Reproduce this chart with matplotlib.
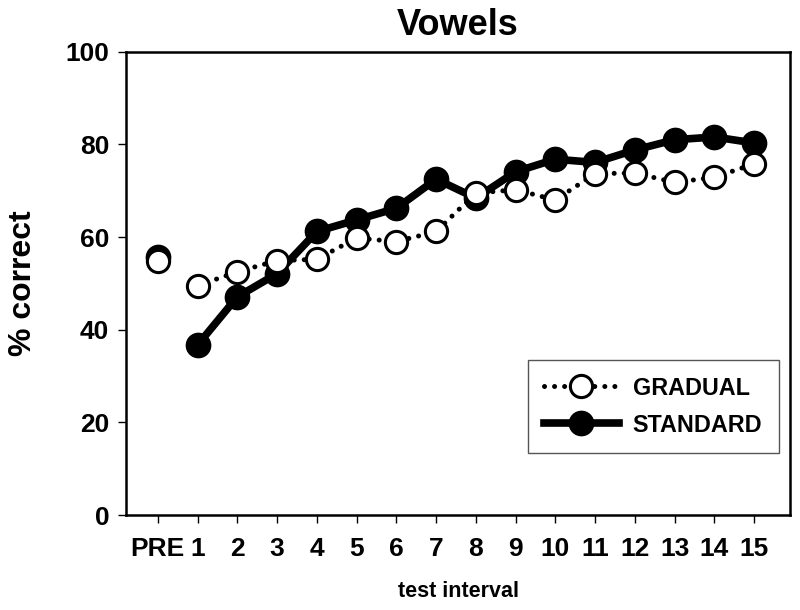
import matplotlib
matplotlib.use('Agg')
import matplotlib.pyplot as plt
import numpy as np

# Dades llegides del gràfic
intervals = ['PRE', '1', '2', '3', '4', '5', '6', '7', '8', '9', '10', '11', '12', '13', '14', '15']
gradual = [54.9, 49.5, 52.5, 54.9, 55.2, 59.8, 59.0, 61.2, 69.5, 70.2, 68.0, 73.7, 73.8, 71.8, 72.9, 75.8]
standard = [55.7, 36.7, 47.1, 52.1, 61.2, 63.7, 66.2, 72.5, 68.4, 74.1, 76.8, 76.1, 78.8, 81.0, 81.6, 80.3]

plt.rcParams['font.family'] = ['Liberation Sans', 'DejaVu Sans']
plt.rcParams['font.weight'] = 'bold'

x = np.arange(len(intervals))

fig = plt.figure(figsize=(8, 6.1), dpi=100)
ax = fig.add_axes([0.1575, 0.1557, 0.83, 0.7595])

# PRE no va connectat amb la resta
ax.plot(x[:1], standard[:1], 'o', color='black', markersize=17.5, zorder=3)
ax.plot(x[1:], standard[1:], '-o', color='black', linewidth=5.5, markersize=17.5,
        zorder=3, label='STANDARD')
ax.plot(x[:1], gradual[:1], 'o', color='black', markerfacecolor='white',
        markersize=16, markeredgewidth=2.2, zorder=4)
ax.plot(x[1:], gradual[1:], 'o', color='black', linestyle=(0, (0.01, 2)),
        linewidth=3.6, dash_capstyle='round', markerfacecolor='white',
        markersize=16, markeredgewidth=2.2, zorder=4, label='GRADUAL')

ax.set_xlim(-0.8, 15.9)
ax.set_ylim(0, 100)
ax.set_xticks(x)
ax.set_xticklabels(intervals)
ax.set_yticks([0, 20, 40, 60, 80, 100])
ax.tick_params(axis='both', direction='out', length=6, width=1, labelsize=19)
ax.tick_params(axis='x', pad=10)
ax.tick_params(axis='y', pad=6)
for s in ax.spines.values():
    s.set_linewidth(1.8)

ax.set_title('Vowels', fontsize=26, fontweight='bold', pad=12)
ax.set_ylabel('% correct', fontsize=23, fontweight='bold', labelpad=20)
ax.set_xlabel('test interval', fontsize=15.5, fontweight='bold', labelpad=14)

handles, labels = ax.get_legend_handles_labels()
leg = ax.legend(handles[::-1], labels[::-1], loc='lower right',
                bbox_to_anchor=(0.983, 0.134), borderaxespad=0,
                prop={'size': 16.8, 'weight': 'bold'},
                fancybox=False, edgecolor='#555555', framealpha=1,
                handlelength=3.2, borderpad=0.7, labelspacing=0.6, handletextpad=0.6)
leg.get_frame().set_linewidth(1.0)

fig.savefig('out.png', dpi=100)
